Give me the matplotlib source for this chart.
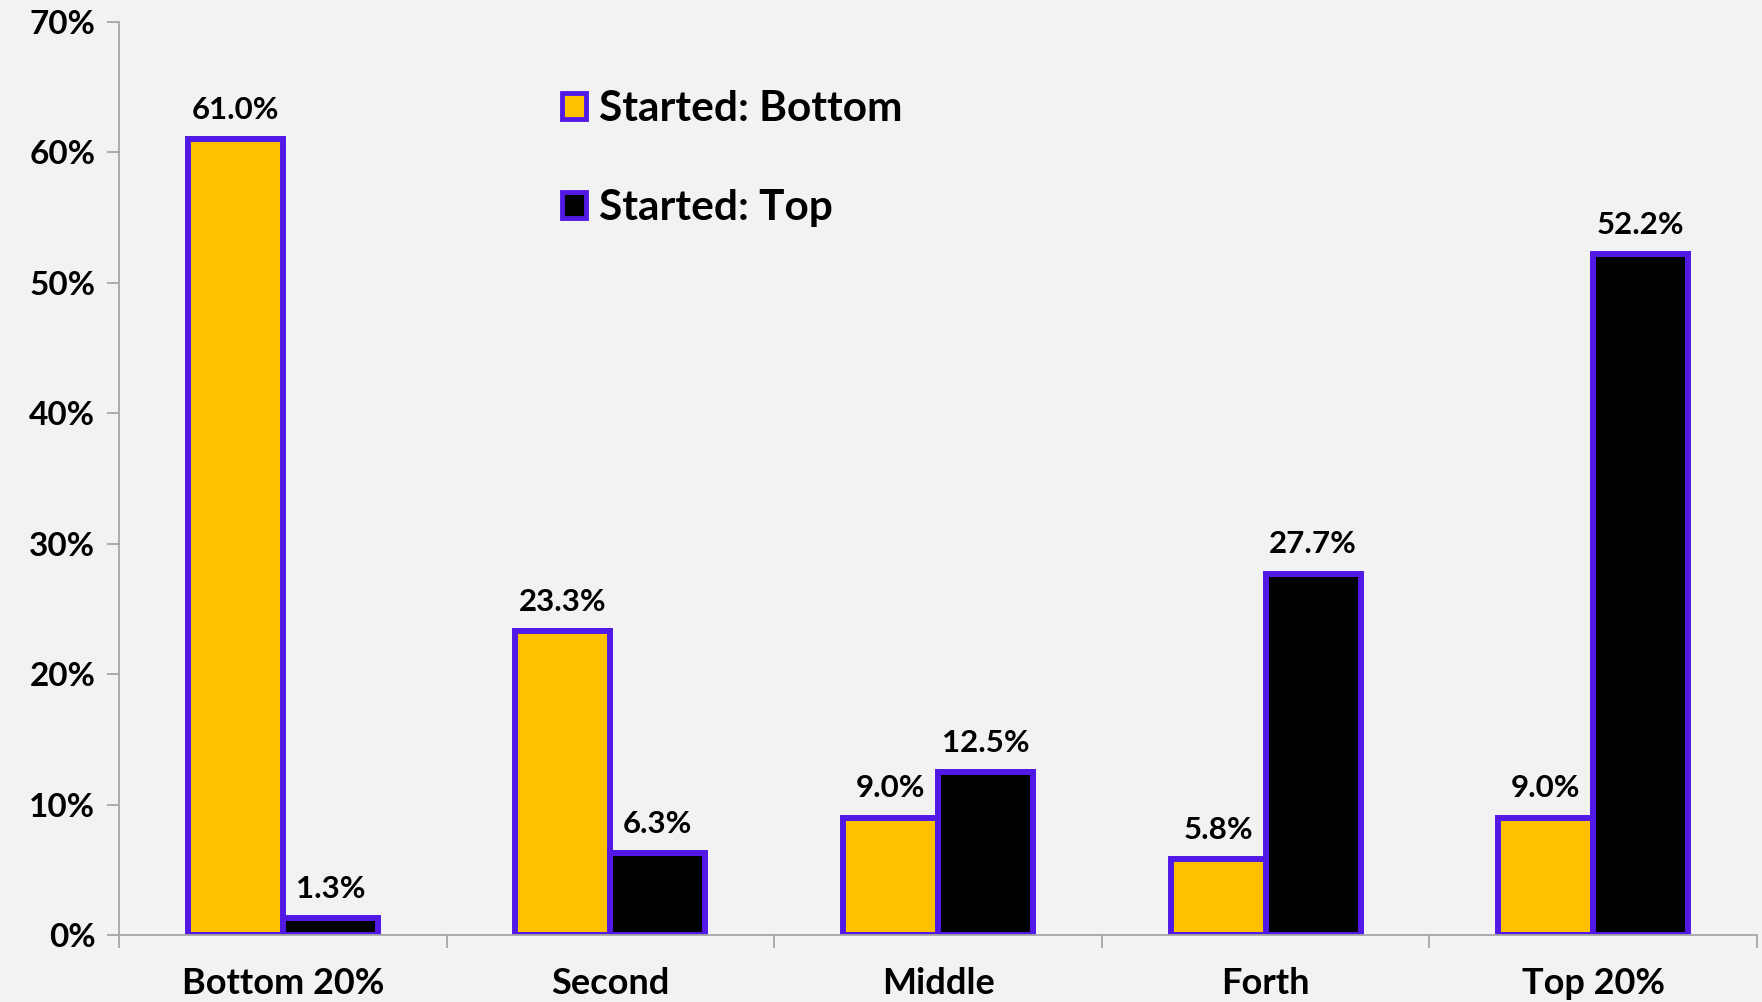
import matplotlib
matplotlib.use("Agg")
import matplotlib.pyplot as plt
from matplotlib.patches import Patch
import numpy as np

categories = ["Bottom 20%", "Second", "Middle", "Forth", "Top 20%"]
started_bottom = [61.0, 23.3, 9.0, 5.8, 9.0]
started_top = [1.3, 6.3, 12.5, 27.7, 52.2]
series_names = ["Started: Bottom", "Started: Top"]
yticks = [0, 10, 20, 30, 40, 50, 60, 70]
ytick_labels = ["0%", "10%", "20%", "30%", "40%", "50%", "60%", "70%"]

FONT = "Lato"
BG = "#F2F2F2"
EDGE = "#5219E6"
ORANGE = "#FFC000"
GRAY = "#A6A6A6"

plt.rcParams["font.family"] = [FONT, "DejaVu Sans"]
plt.rcParams["font.weight"] = "bold"

fig = plt.figure(figsize=(17.62, 10.02), dpi=100, facecolor=BG)
ax = fig.add_axes([0.0675, 0.0669, 0.9297, 0.9111])
ax.set_facecolor(BG)

x = np.arange(len(categories)) + 0.5
w = 0.29
b1 = ax.bar(x - w / 2, started_bottom, w, color=ORANGE, edgecolor=EDGE, linewidth=4.3, label=series_names[0])
b2 = ax.bar(x + w / 2, started_top, w, color="black", edgecolor=EDGE, linewidth=4.3, label=series_names[1])

for bars, vals in ((b1, started_bottom), (b2, started_top)):
    for r, v in zip(bars, vals):
        ax.annotate(f"{v:.1f}%", (r.get_x() + r.get_width() / 2, v), xytext=(0, 11),
                    textcoords="offset points", ha="center", va="bottom",
                    fontsize=22.5, fontweight="bold", color="black")

ax.set_xlim(0, len(categories))
ax.set_ylim(0, 70)
ax.set_yticks(yticks)
ax.set_yticklabels(ytick_labels)
ax.set_xticks(np.arange(len(categories) + 1))
ax.set_xticklabels([])
ax.set_xticks(x, minor=True)
ax.set_xticklabels(categories, minor=True)
ax.tick_params(axis="x", which="minor", length=0, pad=23, labelsize=26)
ax.tick_params(axis="x", which="major", length=9, width=1.3, color=GRAY, direction="out")
ax.tick_params(axis="y", length=9, width=1.3, color=GRAY, labelsize=24, pad=8)
for lab in ax.get_xticklabels(minor=True) + ax.get_yticklabels():
    lab.set_fontweight("bold")

for s in ("top", "right"):
    ax.spines[s].set_visible(False)
for s in ("left", "bottom"):
    ax.spines[s].set_color(GRAY)
    ax.spines[s].set_linewidth(1.3)

handles = [Patch(facecolor=ORANGE, edgecolor=EDGE, linewidth=3.5),
           Patch(facecolor="black", edgecolor=EDGE, linewidth=3.5)]
leg = ax.legend(handles, series_names, loc="upper left", frameon=False,
                bbox_to_anchor=(562 / 1762, 1 - 90 / 1002), bbox_transform=fig.transFigure,
                prop={"family": [FONT, "DejaVu Sans"], "weight": "bold", "size": 30.5},
                handlelength=0.57, handleheight=0.57, handletextpad=0.3, labelspacing=1.45,
                borderaxespad=0, borderpad=0)

fig.savefig("out.png", dpi=100, facecolor=BG)
